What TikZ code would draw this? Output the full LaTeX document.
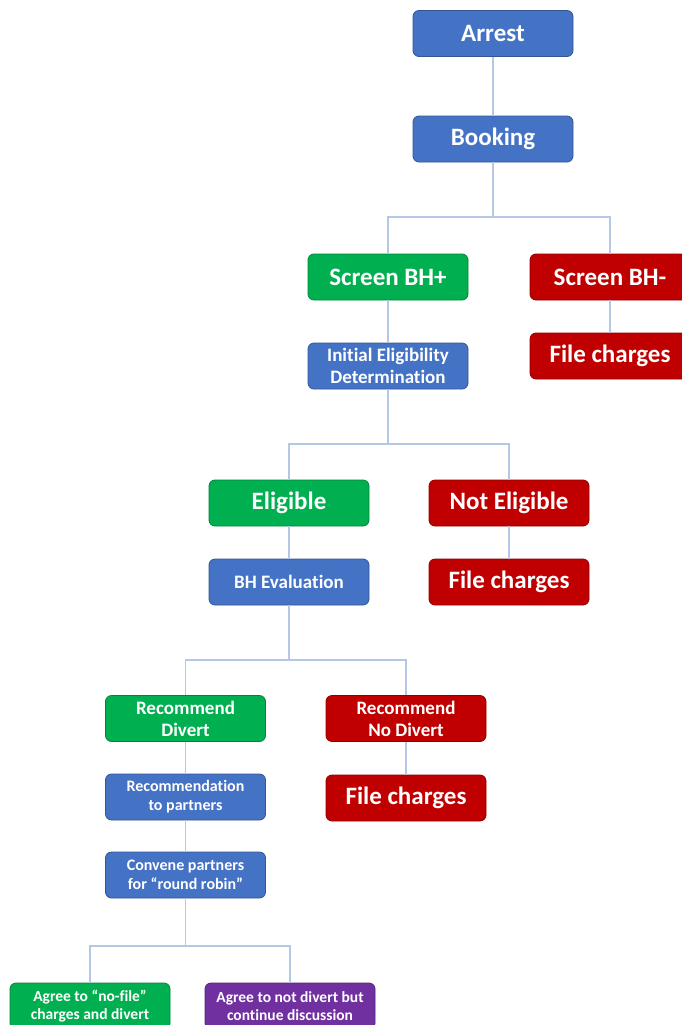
\documentclass[tikz,border=0pt]{standalone}
\usepackage{fontspec}
\setmainfont[RawFeature=-liga]{Carlito}
\definecolor{cblue}{HTML}{4472C4}
\definecolor{cgreen}{HTML}{00B050}
\definecolor{cred}{HTML}{C00000}
\definecolor{cpurple}{HTML}{7030A0}
\definecolor{cline}{HTML}{B4C7E7}
\tikzset{
  box/.style={rectangle, rounded corners=6pt, minimum width=160pt, minimum height=46pt,
    fill=#1, draw=#1!75!black, line width=0.8pt, text=white, align=center, inner sep=2pt},
  big/.style={font=\bfseries\fontsize{25}{28}\selectfont},
  mid/.style={font=\bfseries\fontsize{19}{22}\selectfont},
  sml/.style={font=\bfseries\fontsize{16}{19}\selectfont},
  tiny/.style={font=\bfseries\fontsize{15.5}{18}\selectfont},
  conn/.style={draw=cline, line width=1.8pt}
}
\begin{document}
\begin{tikzpicture}[x=1pt,y=-1pt]
\useasboundingbox (0,0) rectangle (682,1025);
\fill[white] (0,0) rectangle (682,1025);
% nodes
\node[box=cblue, big] (arrest) at (493,33.5) {Arrest};
\node[box=cblue, big] (booking) at (493,139) {Booking};
\node[box=cgreen, big] (scrp) at (388,277) {Screen BH+};
\node[box=cred, big] (scrm) at (610,277) {Screen BH-};
\node[box=cred, big] (fc1) at (610,356) {File charges};
\node[box=cblue, mid] (ied) at (388,366) {Initial Eligibility\\Determination};
\node[box=cgreen, big] (elig) at (289,503) {Eligible};
\node[box=cred, big] (nelig) at (509,503) {Not Eligible};
\node[box=cblue, mid] (bhe) at (289,582) {BH Evaluation};
\node[box=cred, big] (fc2) at (509,582) {File charges};
\node[box=cgreen, mid] (rd) at (185.5,718.5) {Recommend\\Divert};
\node[box=cred, mid] (rnd) at (406,718.5) {Recommend\\No Divert};
\node[box=cblue, sml] (rtp) at (185.5,797) {Recommendation\\to partners};
\node[box=cred, big] (fc3) at (406,798) {File charges};
\node[box=cblue, sml] (conv) at (185.5,875) {Convene partners\\for “round robin”};
\node[box=cgreen, tiny] (agree1) at (90,1006) {Agree to “no-file”\\charges and divert};
\node[box=cpurple, tiny, minimum width=170pt] (agree2) at (290,1006) {Agree to not divert but\\continue discussion};
% junctions
\coordinate (j1) at (493,217);
\coordinate (j2) at (388,444);
\coordinate (j3) at (289,660);
\coordinate (j4) at (185.5,946);
% connectors
\draw[conn] (arrest.south) -- (booking.north);
\draw[conn] (booking.south) -- (j1);
\draw[conn] (scrp.north) |- (j1) -| (scrm.north);
\draw[conn] (scrm.south) -- (fc1.north);
\draw[conn] (scrp.south) -- (ied.north);
\draw[conn] (ied.south) -- (j2);
\draw[conn] (elig.north) |- (j2) -| (nelig.north);
\draw[conn] (elig.south) -- (bhe.north);
\draw[conn] (nelig.south) -- (fc2.north);
\draw[conn] (bhe.south) -- (j3);
\draw[conn] (rd.north) |- (j3) -| (rnd.north);
\draw[conn] (rd.south) -- (rtp.north);
\draw[conn] (rnd.south) -- (fc3.north);
\draw[conn] (rtp.south) -- (conv.north);
\draw[conn] (conv.south) -- (j4);
\draw[conn] (agree1.north) |- (j4) -| (agree2.north);
\end{tikzpicture}
\end{document}
